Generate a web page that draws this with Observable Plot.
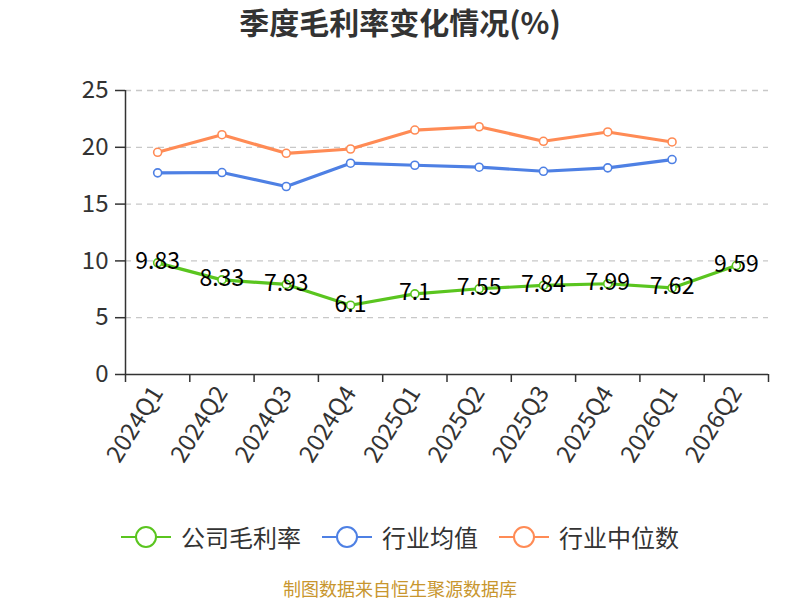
<!DOCTYPE html>
<html><head><meta charset="utf-8">
<script src="https://cdn.jsdelivr.net/npm/d3@7"></script>
<script src="https://cdn.jsdelivr.net/npm/@observablehq/plot@0.6"></script>
<style>
body{margin:0;width:800px;height:600px;position:relative;background:#fff;font-family:"Noto Sans CJK SC","Noto Sans",sans-serif;overflow:hidden}
#title{position:absolute;top:2px;left:0;width:800px;text-align:center;font-size:30px;font-weight:bold;color:#333;line-height:38px}
#chart{position:absolute;top:50px;left:0}
#ylab{position:absolute;left:48px;top:113px;width:30px;height:24px;line-height:24px;text-align:center;color:#f00;font-size:16px;transform:rotate(-90deg)}
#legend{position:absolute;top:520px;left:0;width:800px;display:flex;justify-content:center;align-items:center;gap:21px;font-size:24px;color:#333;line-height:34px}
#legend .item{display:flex;align-items:center;gap:10px}
#caption{position:absolute;top:577px;left:0;width:800px;text-align:center;color:#c8962e;font-size:18px;line-height:22px}
</style></head>
<body>
<div id="title">季度毛利率变化情况(%)</div>
<div id="ylab">(%)</div>
<div id="chart"></div>
<div id="legend"></div>
<div id="caption">制图数据来自恒生聚源数据库</div>
<script>
const quarters = ["2024Q1","2024Q2","2024Q3","2024Q4","2025Q1","2025Q2","2025Q3","2025Q4","2026Q1","2026Q2"];
const company = [9.83, 8.33, 7.93, 6.1, 7.1, 7.55, 7.84, 7.99, 7.62, 9.59];
const industryAvg = [17.75, 17.78, 16.55, 18.6, 18.42, 18.25, 17.89, 18.19, 18.92];
const industryMedian = [19.56, 21.11, 19.47, 19.85, 21.52, 21.81, 20.53, 21.35, 20.47];
const seriesNames = ["公司毛利率", "行业均值", "行业中位数"];
const seriesColors = ["#5ac51f", "#4e80e4", "#ff8b55"];
const yTicks = [0, 5, 10, 15, 20, 25];

const seriesData = [company, industryAvg, industryMedian];
const rows = [];
seriesData.forEach((arr, s) => arr.forEach((v, i) => rows.push({i: i + 0.5, v, s: seriesNames[s]})));
const greenRows = rows.filter(d => d.s === seriesNames[0]);
const colorOf = name => seriesColors[seriesNames.indexOf(name)];

const drawOrder = [seriesNames[2], seriesNames[1], seriesNames[0]];
const lineMarks = drawOrder.flatMap(name => {
  const data = rows.filter(d => d.s === name);
  return [
    Plot.line(data, {x: "i", y: "v", stroke: colorOf(name), strokeWidth: 3.2, curve: "linear"}),
    Plot.dot(data, {x: "i", y: "v", r: 4, fill: "white", stroke: colorOf(name), strokeWidth: 1.6})
  ];
});

const plot = Plot.plot({
  width: 800,
  height: 450,
  marginLeft: 125,
  marginRight: 32,
  marginTop: 40,
  marginBottom: 126,
  style: {fontFamily: '"Noto Sans CJK SC","Noto Sans",sans-serif', color: "#333", background: "white", overflow: "visible"},
  x: {type: "linear", domain: [0, quarters.length]},
  y: {domain: [0, 25]},
  marks: [
    Plot.gridY([5, 10, 15, 20, 25], {stroke: "#c8c8c8", strokeOpacity: 1, strokeWidth: 1.3, strokeDasharray: "6,5"}),
    Plot.axisY(yTicks, {tickSize: 10, tickPadding: 7, fontSize: 24, stroke: "#333", strokeWidth: 1.5, label: null}),
    Plot.ruleX([0], {y1: 0, y2: 25, stroke: "#333", strokeWidth: 1.5}),
    Plot.ruleY([0], {stroke: "#333", strokeWidth: 1.5}),
    Plot.axisX(d3.range(quarters.length + 1), {tickSize: 8, tickFormat: () => "", stroke: "#333", strokeWidth: 1.5, label: null}),
    Plot.axisX(quarters.map((q, i) => i + 0.5), {tickSize: 0, tickPadding: 14, tickRotate: -58, fontSize: 24, tickFormat: d => quarters[Math.floor(d)], label: null}),
    ...lineMarks,
    Plot.text(greenRows, {x: "i", y: "v", text: d => String(d.v), fontSize: 23, fill: "#000", dy: -1})
  ]
});
document.getElementById("chart").appendChild(plot);

const legend = document.getElementById("legend");
seriesNames.forEach((name, k) => {
  const item = document.createElement("div");
  item.className = "item";
  item.innerHTML = `<svg width="50" height="24"><line x1="0" x2="50" y1="12" y2="12" stroke="${seriesColors[k]}" stroke-width="2"/><circle cx="25" cy="12" r="10" fill="white" stroke="${seriesColors[k]}" stroke-width="2"/></svg><span>${name}</span>`;
  legend.appendChild(item);
});
</script>
</body></html>
